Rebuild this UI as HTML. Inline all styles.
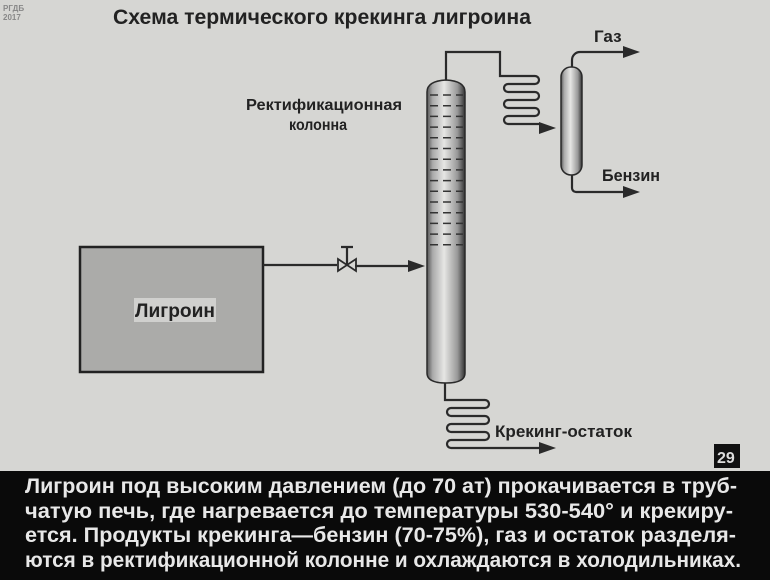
<!DOCTYPE html>
<html><head><meta charset="utf-8"><style>
html,body{margin:0;padding:0;background:#d6d6d3;}
svg{display:block}
text{font-family:"Liberation Sans Narrow","Liberation Sans",sans-serif;font-weight:bold;}
</style></head><body>
<svg width="770" height="580" viewBox="0 0 770 580" xmlns="http://www.w3.org/2000/svg">
<defs>
<linearGradient id="col" x1="0" x2="1" y1="0" y2="0">
<stop offset="0" stop-color="#555"/><stop offset="0.15" stop-color="#aaa"/><stop offset="0.45" stop-color="#e6e6e4"/><stop offset="0.8" stop-color="#999"/><stop offset="1" stop-color="#333"/>
</linearGradient>
</defs>
<rect width="770" height="580" fill="#d6d6d3"/>
<text x="3" y="11" font-size="8" fill="#888">РГДБ</text>
<text x="3" y="20" font-size="8" fill="#888">2017</text>
<text x="113" y="24" font-size="21" fill="#222" textLength="418" lengthAdjust="spacingAndGlyphs">Схема термического крекинга лигроина</text>
<text x="246" y="110" font-size="16" fill="#222" textLength="156" lengthAdjust="spacingAndGlyphs">Ректификационная</text>
<text x="289" y="130" font-size="16" fill="#222" textLength="58" lengthAdjust="spacingAndGlyphs">колонна</text>

<rect x="80" y="247" width="183" height="125" fill="#ababa9" stroke="#222" stroke-width="2.5"/>
<rect x="134" y="298" width="82" height="24" fill="#d0d0ce"/>
<text x="135" y="317" font-size="19" fill="#222" textLength="80" lengthAdjust="spacingAndGlyphs">Лигроин</text>

<g stroke="#2a2a2a" stroke-width="2.2" fill="none">
<path d="M263 265 H337"/>
<path d="M355 266 H410"/>
<path d="M446 81 V52 H500 V76 H535 a4 4 0 0 1 0 8 H508 a4 4 0 0 0 0 8 H535 a4 4 0 0 1 0 8 H508 a4 4 0 0 0 0 8 H535 a4 4 0 0 1 0 8 H508 a4 4 0 0 0 0 8 H540"/>
<path d="M572 70 V60 a8 8 0 0 1 8 -8 H625"/>
<path d="M572 172 V188 a4 4 0 0 0 4 4 H625"/>
<path d="M445 382 V400 H485 a4 4 0 0 1 0 8 H451 a4 4 0 0 0 0 8 H485 a4 4 0 0 1 0 8 H451 a4 4 0 0 0 0 8 H485 a4 4 0 0 1 0 8 H451 a4 4 0 0 0 0 8 H540"/>
<path d="M338 259 L356 271 V259 L338 271 Z" stroke-width="1.8"/>
<path d="M347 265 V247 M341 247 H353"/>
</g>
<g fill="#2a2a2a">
<path d="M425 266 L408 260 V272 Z"/>
<path d="M556 128 L539 122 V134 Z"/>
<path d="M640 52 L623 46 V58 Z"/>
<path d="M640 192 L623 186 V198 Z"/>
<path d="M556 448 L539 442 V454 Z"/>
</g>
<path d="M427 92 Q427 81 446 80 Q465 81 465 92 V373 Q465 383 446 383 Q427 383 427 373 Z" fill="url(#col)" stroke="#2a2a2a" stroke-width="1.5"/>
<g stroke="#333" stroke-width="1.5" stroke-dasharray="8 5">
<path d="M430 95 H463 M430 105.7 H463 M430 116.4 H463 M430 127.1 H463 M430 137.8 H463 M430 148.5 H463 M430 159.2 H463 M430 169.9 H463 M430 180.6 H463 M430 191.3 H463 M430 202 H463 M430 212.7 H463 M430 223.4 H463 M430 234.1 H463 M430 244.8 H463"/>
</g>
<rect x="561" y="67" width="21" height="108" rx="10" fill="url(#col)" stroke="#2a2a2a" stroke-width="1.5"/>

<text x="594" y="42" font-size="17" fill="#222">Газ</text>
<text x="602" y="181" font-size="17" fill="#222" textLength="58" lengthAdjust="spacingAndGlyphs">Бензин</text>
<text x="495" y="437" font-size="17" fill="#222" textLength="137" lengthAdjust="spacingAndGlyphs">Крекинг-остаток</text>

<rect x="714" y="444" width="26" height="24" fill="#111"/>
<text x="717" y="463" font-size="16" fill="#ddd">29</text>

<rect x="0" y="471" width="770" height="109" fill="#0a0a0a"/>
<g fill="#e8e8e8" font-size="21">
<text x="25" y="493" textLength="712" lengthAdjust="spacingAndGlyphs">Лигроин под высоким давлением (до 70 ат)   прокачивается в труб-</text>
<text x="25" y="518" textLength="708" lengthAdjust="spacingAndGlyphs">чатую печь, где нагревается до температуры 530-540° и крекиру-</text>
<text x="25" y="542" textLength="711" lengthAdjust="spacingAndGlyphs">ется. Продукты крекинга—бензин (70-75%), газ и остаток разделя-</text>
<text x="25" y="567" textLength="716" lengthAdjust="spacingAndGlyphs">ются в ректификационной колонне и охлаждаются в холодильниках.</text>
</g>
</svg>
</body></html>
